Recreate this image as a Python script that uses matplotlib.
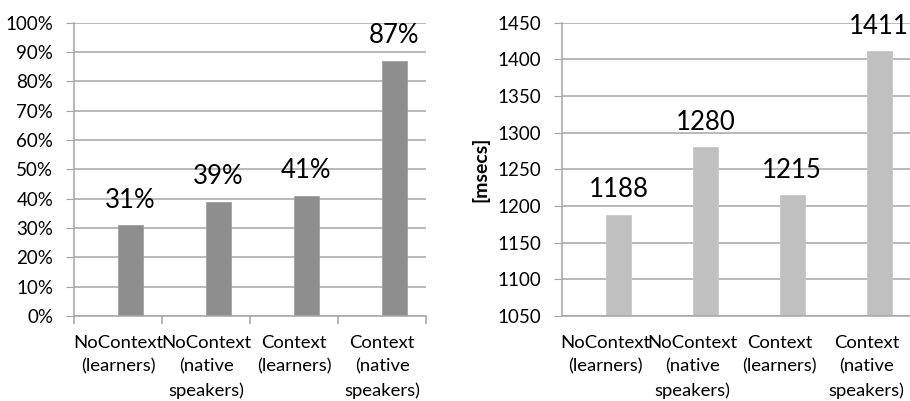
import matplotlib
matplotlib.use("Agg")
import matplotlib.pyplot as plt
import numpy as np

plt.rcParams['font.family'] = ['Lato', 'DejaVu Sans']

categories = ["NoContext\n(learners)", "NoContext\n(native\nspeakers)",
              "Context\n(learners)", "Context\n(native\nspeakers)"]
accuracy = [31, 39, 41, 87]          # percent
accuracy_labels = ["31%", "39%", "41%", "87%"]
resp_time = [1188, 1280, 1215, 1411]  # msecs

grid_col = "#a6a6a6"
fig = plt.figure(figsize=(9.10, 4.01), dpi=100)

ax1 = fig.add_axes([74 / 910, 85 / 401, 352 / 910, 293.3 / 401])
ax2 = fig.add_axes([562.3 / 910, 85 / 401, 347.7 / 910, 293.3 / 401])

x = np.arange(len(categories))


def style(ax, ymin, ymax, step, fmt, xticks):
    ax.set_xlim(-0.5, len(categories) - 0.5)
    ax.set_ylim(ymin, ymax)
    ax.set_yticks(np.arange(ymin, ymax + step / 2, step))
    ax.yaxis.set_major_formatter(matplotlib.ticker.FuncFormatter(fmt))
    ax.grid(axis='y', color=grid_col, linewidth=1.1)
    ax.set_axisbelow(True)
    for s in ['top', 'right']:
        ax.spines[s].set_visible(False)
    for s in ['left', 'bottom']:
        ax.spines[s].set_color(grid_col)
        ax.spines[s].set_linewidth(1.1)
    ax.tick_params(axis='y', length=6, color=grid_col, labelsize=13.5, pad=9)
    ax.set_xticks(x)
    ax.set_xticklabels(categories, fontsize=13.3, linespacing=1.55)
    ax.tick_params(axis='x', length=0, pad=14)
    if xticks:
        ax.set_xticks(np.arange(-0.5, len(categories)), minor=True)
        ax.tick_params(axis='x', which='minor', length=6, color=grid_col, width=1.1)


style(ax1, 0, 100, 10, lambda v, p: f"{v:.0f}%", True)
ax1.bar(x, accuracy, width=0.285, align='edge', color="#8e8e8e",
        edgecolor="#a0a0a0", linewidth=0.6)
for xi, v, lab in zip(x, accuracy, accuracy_labels):
    ax1.annotate(lab, (xi + 0.14, v), xytext=(0, 25), textcoords='offset pixels',
                 ha='center', va='center', fontsize=18.5)

style(ax2, 1050, 1450, 50, lambda v, p: f"{v:.0f}", False)
ax2.bar(x, [v - 1050 for v in resp_time], bottom=1050, width=0.29, align='edge',
        color="#c0c0c0", edgecolor="#c8c8c8", linewidth=0.6)
for xi, v in zip(x, resp_time):
    ax2.annotate(str(v), (xi + 0.145, v), xytext=(0, 25), textcoords='offset pixels',
                 ha='center', va='center', fontsize=18.5)
ax2.set_ylabel("[msecs]", fontsize=14, fontweight='bold')
ax2.yaxis.set_label_coords(-0.21, 0.5)

fig.savefig("out.png", dpi=100)
